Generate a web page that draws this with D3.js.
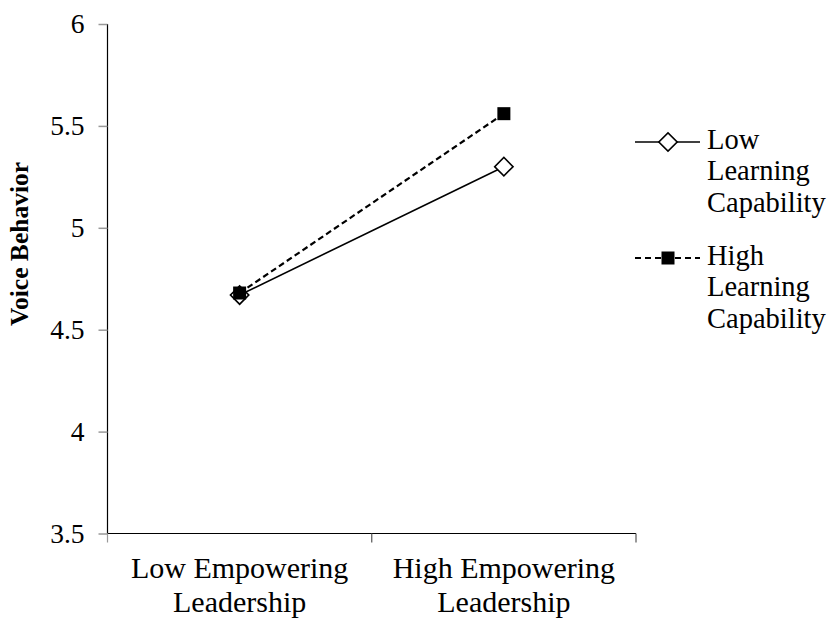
<!DOCTYPE html>
<html><head><meta charset="utf-8">
<script src="https://cdn.jsdelivr.net/npm/d3@7"></script>
<style>body{margin:0;background:#fff}svg{display:block}text{font-family:"Liberation Serif","Times New Roman",serif;fill:#000}</style>
</head><body>
<script>
const categories = [["Low Empowering","Leadership"],["High Empowering","Leadership"]];
const categoryKeys = ["Low Empowering Leadership","High Empowering Leadership"];
const lowLearning = [4.67, 5.30];
const highLearning = [4.68, 5.56];
const yTicks = [3.5, 4, 4.5, 5, 5.5, 6];
const seriesNames = [["Low","Learning","Capability"],["High","Learning","Capability"]];

const W = 833, H = 624;
const svg = d3.select("body").append("svg").attr("width", W).attr("height", H);
const x0 = 107.5, x1 = 636, yTop = 24, yBot = 533.5;
const x = d3.scaleBand().domain(categoryKeys).range([x0, x1]);
const y = d3.scaleLinear().domain([3.5, 6]).range([yBot, yTop]);

// y axis
const yAxis = svg.append("g").attr("transform", `translate(${x0},0)`)
  .call(d3.axisLeft(y).tickValues(yTicks).tickSize(9).tickPadding(14).tickFormat(d3.format("")));
yAxis.select(".domain").attr("stroke", "#000").attr("stroke-width", 1.2).attr("d", `M0,${yTop}V${yBot}`);
yAxis.selectAll(".tick line").attr("stroke", "#999").attr("stroke-width", 1.5);
yAxis.selectAll(".tick text").attr("font-size", 27.5).attr("font-family", "Liberation Serif").attr("fill", "#000");

// x axis
const xAxis = svg.append("g").attr("transform", `translate(0,${yBot})`);
xAxis.append("line").attr("x1", x0).attr("x2", x1).attr("stroke", "#000").attr("stroke-width", 1.2);
const bounds = [x0, x0 + x.bandwidth(), x1];
xAxis.selectAll("line.tk").data(bounds).join("line").attr("class","tk")
  .attr("x1", d => d).attr("x2", d => d).attr("y1", 0).attr("y2", 9)
  .attr("stroke", (d,i)=> i===0 ? "#999" : "#555").attr("stroke-width", 1.2);
categories.forEach((lines, i) => {
  const cx = x(categoryKeys[i]) + x.bandwidth() / 2;
  lines.forEach((t, j) => {
    xAxis.append("text").attr("x", cx).attr("y", 38 + j * 33.5)
      .attr("dominant-baseline", "middle").attr("text-anchor", "middle")
      .attr("font-size", 30).text(t);
  });
});

// y title
svg.append("text").attr("transform", `translate(28,244) rotate(-90)`)
  .attr("text-anchor", "middle").attr("font-weight", "bold").attr("font-size", 25.5)
  .text("Voice Behavior");

const px = (i) => x(categoryKeys[i]) + x.bandwidth() / 2;
const line = d3.line().x((d, i) => px(i)).y(d => y(d));

svg.append("path").datum(lowLearning).attr("d", line).attr("fill", "none")
  .attr("stroke", "#000").attr("stroke-width", 1.6);
svg.append("path").datum(highLearning).attr("d", line).attr("fill", "none")
  .attr("stroke", "#000").attr("stroke-width", 2.2).attr("stroke-dasharray", "6,3.5");

const diamond = (g, cx, cy) => g.append("rect").attr("x", -6.5).attr("y", -6.5).attr("width", 13).attr("height", 13)
  .attr("transform", `translate(${cx},${cy}) rotate(45)`).attr("fill", "#fff").attr("stroke", "#000").attr("stroke-width", 1.6);
const square = (g, cx, cy) => g.append("rect").attr("x", cx - 6.5).attr("y", cy - 6.5).attr("width", 13).attr("height", 13)
  .attr("fill", "#000");

lowLearning.forEach((v, i) => diamond(svg, px(i), y(v)));
highLearning.forEach((v, i) => square(svg, px(i), y(v)));

// legend
const lg = svg.append("g");
const ly = [142, 258];
lg.append("line").attr("x1", 635).attr("x2", 700).attr("y1", ly[0]).attr("y2", ly[0]).attr("stroke", "#000").attr("stroke-width", 1.6);
diamond(lg, 668, ly[0]);
lg.append("line").attr("x1", 635).attr("x2", 700).attr("y1", ly[1]).attr("y2", ly[1]).attr("stroke", "#000").attr("stroke-width", 2.2).attr("stroke-dasharray", "6,4");
square(lg, 668, ly[1]);
seriesNames.forEach((lines, i) => {
  lines.forEach((t, j) => {
    lg.append("text").attr("x", 707).attr("y", ly[i] + j * 31.5)
      .attr("dominant-baseline", "middle").attr("font-size", 28.5).text(t);
  });
});
</script>
</body></html>
